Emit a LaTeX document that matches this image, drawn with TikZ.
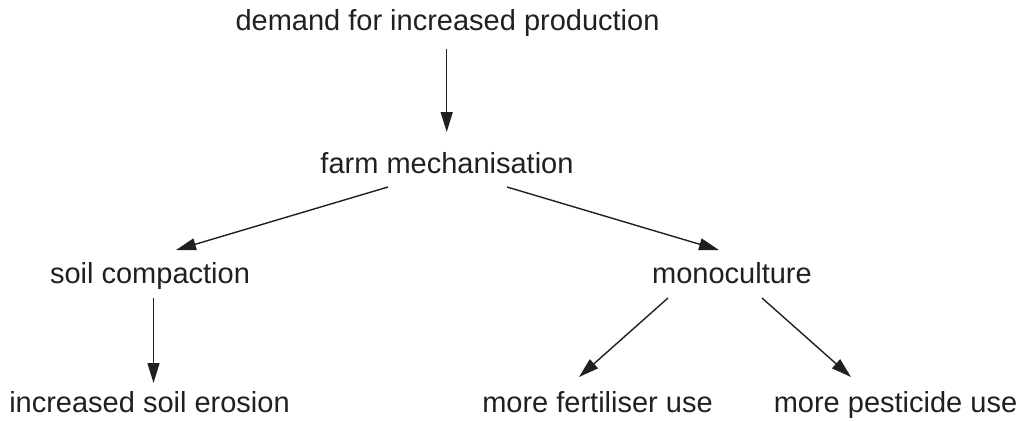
\documentclass[tikz,border=0pt]{standalone}
\usepackage{fontspec}
\setmainfont{Liberation Sans}
\usetikzlibrary{arrows.meta}
\definecolor{ink}{HTML}{231F20}
\tikzset{
  lbl/.style={anchor=base, inner sep=0pt, text=ink, font=\fontsize{29}{34}\selectfont},
  arr/.style={draw=ink, line width=1.4pt, -{Triangle[length=20pt,width=12pt]}}
}
\begin{document}
\begin{tikzpicture}[x=1pt,y=-1pt]
\useasboundingbox (0,0) rectangle (1023,421);
\node[lbl] (t) at (447.5,30) {demand for increased production};
\node[lbl] (fm) at (447,173) {farm mechanisation};
\node[lbl] (sc) at (150,283) {soil compaction};
\node[lbl] (mo) at (732,283) {monoculture};
\node[lbl] (ise) at (149.5,412) {increased soil erosion};
\node[lbl] (mf) at (597.5,412) {more fertiliser use};
\node[lbl] (mp) at (895.5,412) {more pesticide use};
\draw[arr] ([shift={(-0.8,19)}]t.base) -- ([shift={(-0.3,-41)}]fm.base);
\draw[arr] ([shift={(-59,14)}]fm.base) -- ([shift={(26,-33)}]sc.base);
\draw[arr] ([shift={(60,14)}]fm.base) -- ([shift={(-13,-33)}]mo.base);
\draw[arr] ([shift={(3.5,15)}]sc.base) -- ([shift={(4,-29)}]ise.base);
\draw[arr] ([shift={(-64,15)}]mo.base) -- ([shift={(-18.5,-35)}]mf.base);
\draw[arr] ([shift={(30,15)}]mo.base) -- ([shift={(-44.5,-35)}]mp.base);
\end{tikzpicture}
\end{document}
